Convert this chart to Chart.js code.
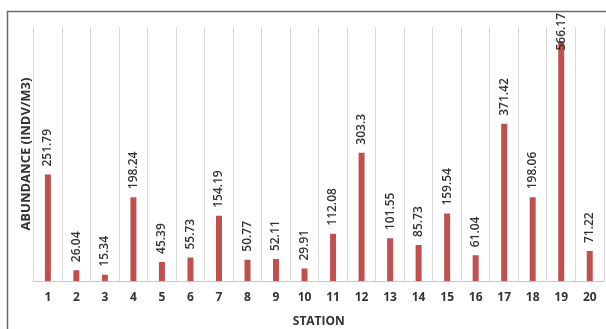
<!DOCTYPE html>
<html lang="en">
<head>
    <meta charset="UTF-8">
    <title>Abundance by Station</title>
    <script src="https://cdn.jsdelivr.net/npm/chart.js@4.4.0"></script>
    <style>
        html, body { margin: 0; padding: 0; background: #fff; }
        .wrap { width: 606px; height: 329px; position: relative; }
    </style>
</head>
<body>
    <div class="wrap"><canvas id="chart"></canvas></div>

    <script>
        const stations = ['1', '2', '3', '4', '5', '6', '7', '8', '9', '10',
                          '11', '12', '13', '14', '15', '16', '17', '18', '19', '20'];
        const abundance = [251.79, 26.04, 15.34, 198.24, 45.39, 55.73, 154.19, 50.77, 52.11, 29.91,
                           112.08, 303.3, 101.55, 85.73, 159.54, 61.04, 371.42, 198.06, 566.17, 71.22];
        const yMin = 0;
        const yMax = 600;

        const textColor = '#333';
        const fontFamily = '"Open Sans", sans-serif';

        // outer frame, only the top and left edges fall inside the canvas
        const framePlugin = {
            id: 'frame',
            beforeDraw(chart) {
                const ctx = chart.ctx;
                ctx.save();
                ctx.fillStyle = '#fff';
                ctx.fillRect(0, 0, chart.width, chart.height);
                ctx.strokeStyle = '#6b6b6b';
                ctx.lineWidth = 1.5;
                ctx.beginPath();
                ctx.moveTo(7.5, chart.height);
                ctx.lineTo(7.5, 11.5);
                ctx.lineTo(chart.width, 11.5);
                ctx.stroke();
                ctx.restore();
            }
        };

        // vertical value labels above each bar
        const valueLabels = {
            id: 'valueLabels',
            afterDatasetsDraw(chart) {
                const ctx = chart.ctx;
                const meta = chart.getDatasetMeta(0);
                ctx.save();
                ctx.font = '600 12px ' + fontFamily;
                ctx.fillStyle = textColor;
                ctx.textAlign = 'left';
                ctx.textBaseline = 'middle';
                meta.data.forEach((bar, i) => {
                    const text = String(abundance[i]);
                    const w = ctx.measureText(text).width;
                    let start = bar.y - 8;
                    if (start - w < 13) start = 13 + w;
                    ctx.save();
                    ctx.translate(bar.x, start);
                    ctx.rotate(-Math.PI / 2);
                    ctx.fillText(text, 0, 0);
                    ctx.restore();
                });
                ctx.restore();
            }
        };

        new Chart(document.getElementById('chart'), {
            type: 'bar',
            data: {
                labels: stations,
                datasets: [{
                    data: abundance,
                    backgroundColor: '#c0504d',
                    barPercentage: 0.21,
                    categoryPercentage: 1
                }]
            },
            options: {
                responsive: true,
                maintainAspectRatio: false,
                animation: false,
                layout: { padding: { left: 18, top: 27, right: 2, bottom: 0 } },
                plugins: {
                    legend: { display: false },
                    tooltip: { enabled: false }
                },
                scales: {
                    x: {
                        grid: { color: '#d9d9d9', drawTicks: false, offset: true },
                        border: { color: '#c8c8c8' },
                        ticks: {
                            color: textColor,
                            padding: 9,
                            font: { family: fontFamily, size: 12, weight: 'bold' }
                        },
                        title: {
                            display: true,
                            text: 'STATION',
                            color: textColor,
                            padding: { top: 1, bottom: 0 },
                            font: { family: fontFamily, size: 12, weight: 'bold' }
                        }
                    },
                    y: {
                        min: yMin,
                        max: yMax,
                        grid: { display: false, drawTicks: false },
                        border: { display: false },
                        ticks: { display: false },
                        title: {
                            display: true,
                            text: 'ABUNDANCE (INDV/M3)',
                            color: textColor,
                            padding: { top: 0, bottom: 0 },
                            font: { family: fontFamily, size: 13, weight: 'bold' }
                        }
                    }
                }
            },
            plugins: [framePlugin, valueLabels]
        });
    </script>
</body>
</html>
